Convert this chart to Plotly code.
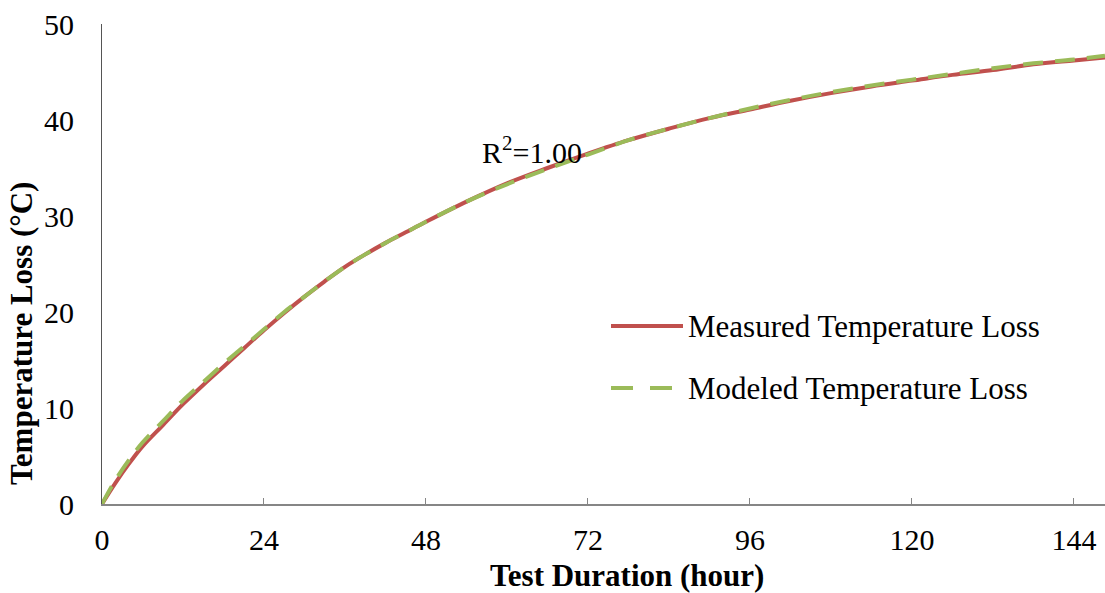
import plotly.graph_objects as go

# Data
hours = [0, 2, 4, 6, 9, 12, 15, 18, 21, 24, 27, 30, 33, 36, 39, 42, 45, 48, 54,
         60, 66, 72, 78, 84, 90, 96, 102, 108, 114, 120, 126, 132, 138, 144, 148.6]
measured = [0, 2.2, 4.2, 6.0, 8.2, 10.4, 12.4, 14.3, 16.2, 18.1, 19.9, 21.6,
            23.2, 24.7, 26.0, 27.2, 28.3, 29.4, 31.5, 33.4, 35.0, 36.5, 37.9,
            39.1, 40.2, 41.1, 42.0, 42.8, 43.5, 44.1, 44.7, 45.2, 45.8, 46.2, 46.5]
modeled = [0, 2.5, 4.6, 6.4, 8.6, 10.8, 12.7, 14.6, 16.4, 18.2, 20.0, 21.6,
           23.2, 24.7, 26.0, 27.2, 28.3, 29.4, 31.5, 33.3, 34.9, 36.4, 37.9,
           39.1, 40.2, 41.2, 42.1, 42.9, 43.6, 44.2, 44.8, 45.4, 45.9, 46.3, 46.7]
x_ticks = [0, 24, 48, 72, 96, 120, 144]
y_ticks = [0, 10, 20, 30, 40, 50]
series_names = ["Measured Temperature Loss", "Modeled Temperature Loss"]
r2_text = "R<sup>2</sup>=1.00"

RED = "#C0504D"
GREEN = "#9BBB59"
FONT = "Liberation Serif"

W, H = 1105, 593
L, R, T, B = 102, 0, 24, 89
pw, ph = W - L - R, H - T - B

def px(x):
    return (x - L) / pw

def py(y):
    return (H - B - y) / ph

fig = go.Figure()
fig.add_trace(go.Scatter(x=hours, y=measured, mode="lines", name=series_names[0],
                         line=dict(color=RED, width=4), line_shape="spline",
                         showlegend=False))
fig.add_trace(go.Scatter(x=hours, y=modeled, mode="lines", name=series_names[1],
                         line=dict(color=GREEN, width=4, dash="20px,12px"),
                         line_shape="spline", showlegend=False))

def ann(x, y, text, size, xanchor="center", angle=0):
    return dict(x=px(x), y=py(y), xref="paper", yref="paper", text=text,
                showarrow=False, xanchor=xanchor, yanchor="middle", textangle=angle,
                font=dict(family=FONT, size=size, color="black"))

annotations = [
    ann(532, 150, r2_text, 30),
    ann(627, 575, "<b>Test Duration (hour)</b>", 31),
    ann(22, 334, "<b>Temperature Loss (°C)</b>", 31, angle=-90),
    ann(686, 326, series_names[0], 31, xanchor="left"),
    ann(686, 388, series_names[1], 31, xanchor="left"),
]

shapes = [
    dict(type="line", xref="paper", yref="paper", x0=px(611), x1=px(683),
         y0=py(326), y1=py(326), line=dict(color=RED, width=4)),
    dict(type="line", xref="paper", yref="paper", x0=px(611), x1=px(633),
         y0=py(388), y1=py(388), line=dict(color=GREEN, width=4)),
    dict(type="line", xref="paper", yref="paper", x0=px(650), x1=px(672),
         y0=py(388), y1=py(388), line=dict(color=GREEN, width=4)),
]

fig.update_layout(
    width=W, height=H,
    margin=dict(l=L, r=R, t=T, b=B, pad=0),
    paper_bgcolor="white", plot_bgcolor="white",
    showlegend=False,
    annotations=annotations,
    shapes=shapes,
    font=dict(family=FONT, size=30, color="black"),
)
fig.update_xaxes(range=[0, 148.6], tickvals=x_ticks, ticktext=[str(v) for v in x_ticks],
                 showgrid=False, zeroline=False, showline=True, linecolor="#868686",
                 linewidth=2, ticks="inside", ticklen=6, tickcolor="#868686",
                 tickwidth=1, ticklabelstandoff=8, automargin=False,
                 tickfont=dict(family=FONT, size=30, color="black"))
fig.update_yaxes(range=[0, 50], tickvals=y_ticks, ticktext=[str(v) for v in y_ticks],
                 showgrid=False, zeroline=False, showline=True, linecolor="#555555",
                 linewidth=1, ticks="", ticklabelstandoff=21, automargin=False,
                 tickfont=dict(family=FONT, size=30, color="black"))

fig.write_html("out.html", config={"displayModeBar": False},
               post_script="document.body.style.margin='0';document.body.style.overflow='hidden';")
